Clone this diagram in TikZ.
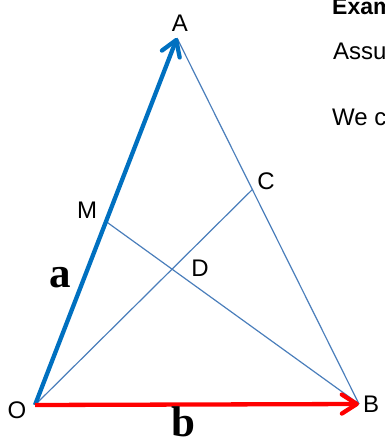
\documentclass[tikz,border=0pt]{standalone}
\usepackage{fontspec}
\setmainfont{Liberation Sans}
\newfontfamily\vecfont{Liberation Serif}
\usetikzlibrary{arrows.meta,calc}
\definecolor{vecblue}{HTML}{0070C0}
\definecolor{linblue}{HTML}{4A7EBB}
\definecolor{vecred}{HTML}{FF0000}

\begin{document}
\begin{tikzpicture}[x=1pt, y=-1pt,
    thinline/.style={linblue, line width=1.2pt},
    vecarrow/.style={line width=4.3pt, -{Straight Barb[length=15pt, width=19pt, round]}},
    ptlabel/.style={font=\fontsize{24}{24}\selectfont, inner sep=0pt},
    veclabel/.style={font=\vecfont\bfseries\fontsize{43}{43}\selectfont, inner sep=0pt}]
    \clip (0,0) rectangle (385,439);
    \useasboundingbox (0,0) rectangle (385,439);

    % --- Points ---
    \coordinate (O) at (35,405);
    \coordinate (A) at (177,38);
    \coordinate (B) at (359,404);
    \coordinate (M) at ($(O)!0.5!(A)$);
    \coordinate (C) at ($(A)!0.414!(B)$);
    \coordinate (D) at (intersection of O--C and M--B);

    % --- Lines ---
    \draw[thinline] (A) -- (B);
    \draw[thinline] (O) -- (C);
    \draw[thinline] (M) -- (B);

    % --- Vectors a and b ---
    \draw[vecarrow, vecblue] (O) -- (A);
    \draw[vecarrow, vecred] (O) -- (B);

    % --- Labels ---
    \node[ptlabel] (labA) at (180,23) {A};
    \node[ptlabel] (labB) at (371,404) {B};
    \node[ptlabel] (labO) at (17,410) {O};
    \node[ptlabel] (labM) at (87,210) {M};
    \node[ptlabel] (labC) at (266,181) {C};
    \node[ptlabel] (labD) at (200,268) {D};
    \node[veclabel] (laba) at (60,278) {a};
    \node[veclabel] (labb) at (183,422) {b};

    % --- Text on the right ---
    \node[ptlabel, anchor=base west, font=\bfseries\fontsize{23}{23}\selectfont] (title) at (332,14) {Example};
    \node[ptlabel, anchor=base west] (assume) at (333,59) {Assume};
    \node[ptlabel, anchor=base west] (wecan) at (332,125) {We can};
\end{tikzpicture}
\end{document}
